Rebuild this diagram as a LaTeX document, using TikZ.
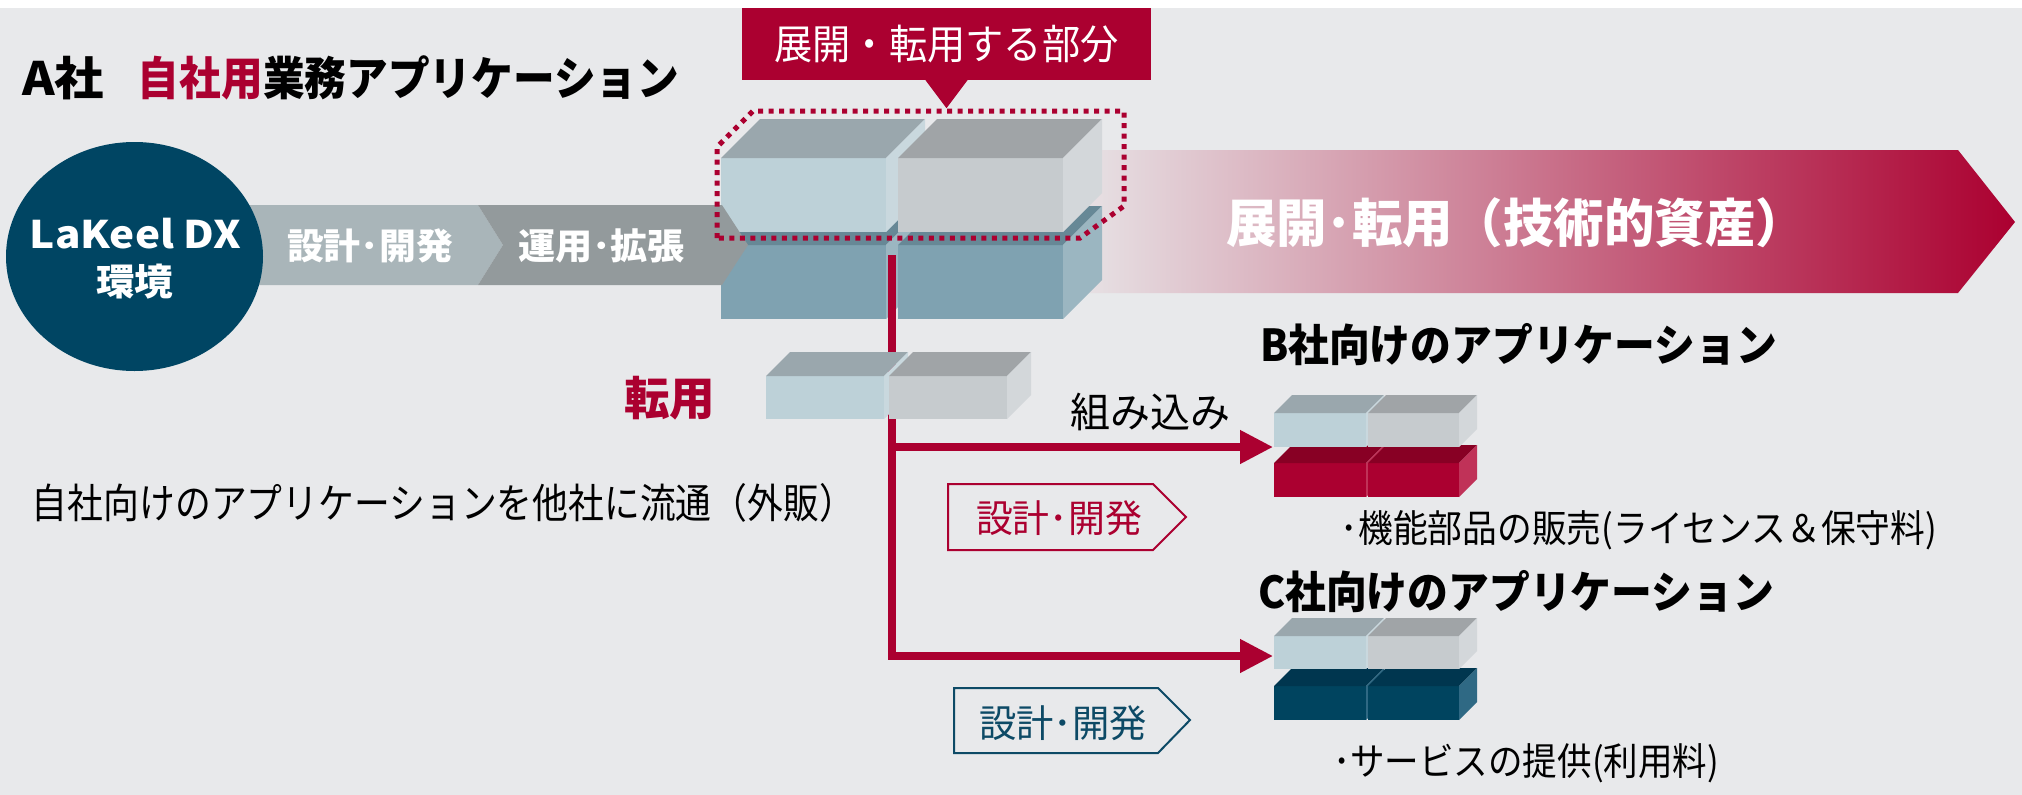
\documentclass[tikz,border=0pt]{standalone}
\usepackage{fontspec}
\usepackage{graphicx}
\newfontfamily\jp{Noto Sans CJK JP}
\usetikzlibrary{arrows.meta,shapes.geometric}
\definecolor{crim}{HTML}{AB0030}
\definecolor{teal}{HTML}{004563}
\definecolor{tagteal}{HTML}{0D4A66}
\definecolor{bg}{HTML}{E8E9EB}
\definecolor{bandA}{HTML}{A9B5B9}
\definecolor{bandB}{HTML}{939A9C}
\definecolor{gradL}{HTML}{E8E6E8}
\definecolor{lbF}{HTML}{BDD1D8}
\definecolor{lbT}{HTML}{9AA7AD}
\definecolor{lbS}{HTML}{C9D8DE}
\definecolor{gyF}{HTML}{C6CBCE}
\definecolor{gyT}{HTML}{A0A4A7}
\definecolor{gyS}{HTML}{D3D7DA}
\definecolor{sbF}{HTML}{7FA2B1}
\definecolor{sbT}{HTML}{678896}
\definecolor{sbS}{HTML}{9BB6C1}
\definecolor{rdF}{HTML}{AB0030}
\definecolor{rdT}{HTML}{880024}
\definecolor{rdS}{HTML}{C03258}
\definecolor{tlF}{HTML}{00445F}
\definecolor{tlT}{HTML}{00364F}
\definecolor{tlS}{HTML}{2F6984}
\newcommand\ft[3]{\fontsize{#1}{#1}\selectfont\resizebox{#2pt}{\height}{#3}}
\newcommand\drawblock[8]{%
  \fill[#6] (#1,#2) rectangle ++(#3,#4);
  \fill[#7] (#1,#2) -- ++(#5,-#5) -- ++(#3,0) -- ++(-#5,#5) -- cycle;
  \fill[#8] (#1+#3,#2) -- ++(#5,-#5) -- ++(0,#4) -- ++(-#5,#5) -- cycle;
}
\tikzset{
  lab/.style={inner sep=0pt, font=\jp},
  blab/.style={inner sep=0pt, font=\jp\bfseries},
  redline/.style={draw=crim, line width=7.5pt},
  tagline/.style={line width=2pt},
  dotbox/.style={draw=crim, line width=5pt, dash pattern=on 5pt off 5.5pt}
}
\begin{document}
\begin{tikzpicture}[x=1pt,y=-1pt]
\useasboundingbox (0,0) rectangle (2022,795);
\fill[white] (0,0) rectangle (2022,795);
\fill[bg] (0,8) rectangle (2022,795);

% big gradient arrow
\shade[left color=gradL, right color=crim] (1064,150) -- (1958,150) -- (2015,222) -- (1958,293) -- (1064,293) -- cycle;

% first band segment
\fill[bandA] (150,205) -- (478,205) -- (503,245) -- (478,285) -- (150,285) -- cycle;

% environment circle
\node[ellipse, fill=teal, minimum width=257pt, minimum height=229pt, inner sep=0pt] (env) at (134.5,256.5) {};
\node[blab, text=white] (tLK) at (135.5,234) {\ft{38}{211}{LaKeel DX}};
\node[blab, text=white] (tKK) at (134.5,281.5) {\ft{37}{77}{環境}};

% big blocks
\drawblock{721}{245}{165}{74}{39}{sbF}{sbT}{sbS}
\drawblock{898}{245}{165}{74}{39}{sbF}{sbT}{sbS}
\drawblock{721}{158}{165}{74}{39}{lbF}{lbT}{lbS}
\drawblock{898}{158}{165}{74}{39}{gyF}{gyT}{gyS}

% second band segment
\fill[bandB] (478,205) -- (722,205) -- (748,245) -- (722,285) -- (478,285) -- (503,245) -- cycle;
\node[blab, text=white] (tS1) at (370,246) {\ft{36}{166}{設計･開発}};
\node[blab, text=white] (tU1) at (601.5,246) {\ft{36}{167}{運用･拡張}};

% arrow text
\node[blab, text=white] (tBig) at (1516,223) {\ft{52}{580}{展開･転用（技術的資産）}};

% connectors
\coordinate (vtop) at (892,255);
\coordinate (jB) at (892,447);
\coordinate (bIn) at (1273,447);
\coordinate (cIn) at (1273,656);
\draw[redline, -{Triangle[length=33pt,width=32pt]}] (vtop) |- (cIn);
\draw[redline, -{Triangle[length=33pt,width=32pt]}] (jB) -- (bIn);

% small blocks (転用)
\drawblock{766}{376}{118}{43}{24}{lbF}{lbT}{lbS}
\drawblock{889}{376}{118}{43}{24}{gyF}{gyT}{gyS}
\node[blab, text=crim] (tTen) at (669.5,398) {\ft{46}{91}{転用}};

% B blocks
\drawblock{1274}{463}{92}{34}{18}{rdF}{rdT}{rdS}
\drawblock{1368}{463}{91}{34}{18}{rdF}{rdT}{rdS}
\drawblock{1274}{413}{92}{34}{18}{lbF}{lbT}{lbS}
\drawblock{1368}{413}{91}{34}{18}{gyF}{gyT}{gyS}

% C blocks
\drawblock{1274}{686}{92}{34}{18}{tlF}{tlT}{tlS}
\drawblock{1368}{686}{91}{34}{18}{tlF}{tlT}{tlS}
\drawblock{1274}{636}{92}{33}{18}{lbF}{lbT}{lbS}
\drawblock{1368}{636}{91}{33}{18}{gyF}{gyT}{gyS}

% tags
\draw[crim, tagline] (948,484) -- (1153,484) -- (1186,517) -- (1153,550) -- (948,550) -- cycle;
\node[lab, text=crim] (tTagB) at (1059,518) {\ft{38}{166}{設計･開発}};
\draw[tagteal, tagline] (954,688) -- (1158,688) -- (1190,720) -- (1158,753) -- (954,753) -- cycle;
\node[lab, text=tagteal] (tTagC) at (1063,723) {\ft{38}{168}{設計･開発}};

% label box
\node[lab, fill=crim, text=white, minimum width=409pt, minimum height=72pt] (lbl) at (946.5,44) {\ft{41}{344}{展開・転用する部分}};
\fill[crim] ([xshift=-21pt]lbl.south) -- ([xshift=21pt]lbl.south) -- ([yshift=-28pt]lbl.south) -- cycle;

% dotted outline
\draw[dotbox] (717,238) -- (717,147) -- (753,111) -- (1124,111) -- (1124,206) -- (1080,238) -- cycle;

% titles and texts
\node[blab, text=black] (tA) at (63,78) {\ft{46}{82}{A社}};
\node[blab, text=black] (tTitle) at (408.5,78) {\ft{46}{541}{\textcolor{crim}{自社用}業務アプリケーション}};
\node[lab, text=black] (tJi) at (443.5,503) {\ft{41}{823}{自社向けのアプリケーションを他社に流通（外販）}};
\node[lab, text=black] (tKumi) at (1150,412) {\ft{41}{160}{組み込み}};
\node[blab, text=black] (tBh) at (1518.5,345) {\ft{44}{517}{B社向けのアプリケーション}};
\node[blab, text=black] (tCh) at (1516,592) {\ft{44}{516}{C社向けのアプリケーション}};
\node[lab, text=black] (tBd) at (1639,530) {\ft{38}{596}{･機能部品の販売(ライセンス＆保守料)}};
\node[lab, text=black] (tCd) at (1526,763) {\ft{38}{386}{･サービスの提供(利用料)}};
\end{tikzpicture}
\end{document}
